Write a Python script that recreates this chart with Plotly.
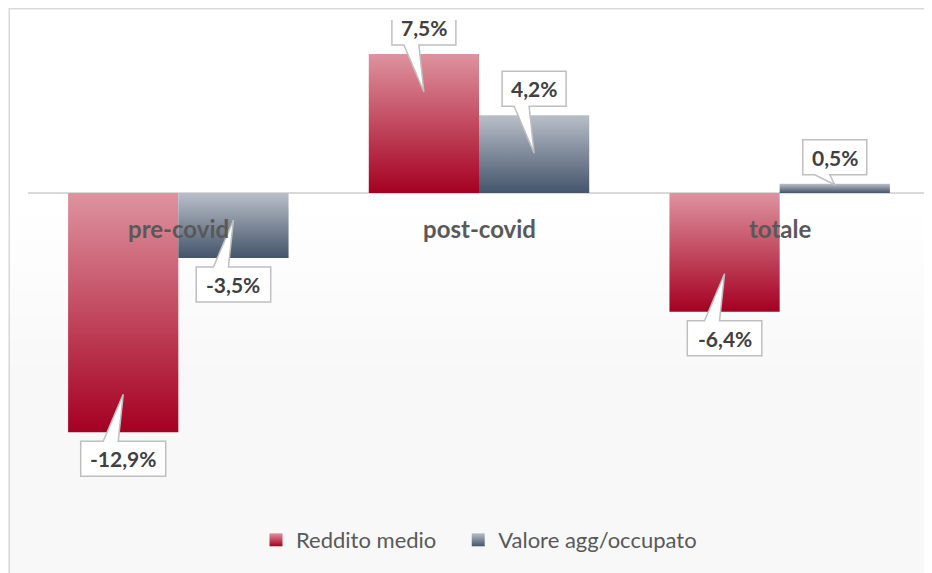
import plotly.graph_objects as go

# data
categorie = ['pre-covid', 'post-covid', 'totale']
reddito_medio = [-12.9, 7.5, -6.4]
valore_agg_occupato = [-3.5, 4.2, 0.5]
serie = [('Reddito medio', reddito_medio), ('Valore agg/occupato', valore_agg_occupato)]

# style
colori = {
    'Reddito medio': ('#a50021', '#de939f'),
    'Valore agg/occupato': ('#44546a', '#b9bfc9'),
}
FONT = 'Lato'
W, H = 932, 573
# page shows the figure offset by the 8px body margin
M_L, M_R, M_T, M_B = 19.5, 10, 12, 81
Y_TOP, Y_BOT = 9.33, -16.55
PX_UNIT = (H - M_T - M_B) / (Y_TOP - Y_BOT)
BAR_W = 0.3666


def fmt(v):
    return '{:.1f}%'.format(v).replace('.', ',')


def px_to_paper_y(py):
    return (H - M_B - py) / (H - M_T - M_B)


def px_to_paper_x(px):
    return (px - M_L) / (W - M_L - M_R)


fig = go.Figure()
shapes = []
annotations = []

# background gradient (white -> light grey)
for k in range(8):
    g = 255 - k
    y_start = 182 + k * 25 if k > 0 else -10
    y_end = 182 + (k + 1) * 25 if k < 7 else 600
    shapes.append(dict(type='rect', xref='paper', yref='paper', layer='below',
                       x0=px_to_paper_x(-10), x1=px_to_paper_x(W + 10),
                       y0=px_to_paper_y(y_end), y1=px_to_paper_y(y_start),
                       fillcolor='rgb({0},{0},{0})'.format(g), line=dict(width=0)))

# outer frame
shapes.append(dict(type='rect', xref='paper', yref='paper', layer='above',
                   x0=px_to_paper_x(0.75), x1=px_to_paper_x(W + 20),
                   y0=px_to_paper_y(H + 20), y1=px_to_paper_y(0.75),
                   fillcolor='rgba(0,0,0,0)', line=dict(color='#d9d9d9', width=1.5)))

for j, (nome, valori) in enumerate(serie):
    scuro, chiaro = colori[nome]
    off = (j - 0.5) * BAR_W
    for i, v in enumerate(valori):
        xc = i + off
        x0, x1 = xc - BAR_W / 2, xc + BAR_W / 2
        fig.add_trace(go.Scatter(
            x=[x0, x1, x1, x0, x0], y=[0, 0, v, v, 0],
            mode='lines', fill='toself', line=dict(width=0),
            fillgradient=dict(type='vertical', colorscale=[[0, scuro], [1, chiaro]]),
            showlegend=False, name=nome, hoverinfo='skip'))

        # callout
        s = 1 if v >= 0 else -1
        w = 10.5 * len(fmt(v)) + 22
        bar_px = abs(v) * PX_UNIT
        tip = 38 if bar_px > 60 else 1
        b0, b1 = 9, 44
        path = 'M{l},{a} L{r},{a} L{r},{b} L-5,{b} L0,{t} L-20,{b} L{l},{b} Z'.format(
            l=-w / 2, r=w / 2, a=s * b1, b=s * b0, t=-s * tip)
        shapes.append(dict(type='path', xref='x', yref='y', layer='above',
                           xsizemode='pixel', ysizemode='pixel', xanchor=xc, yanchor=v,
                           path=path, fillcolor='white', line=dict(color='#bfbfbf', width=1.5)))
        annotations.append(dict(x=xc, y=v, xref='x', yref='y', text='<b>' + fmt(v) + '</b>',
                                showarrow=False, yshift=s * (b0 + b1) / 2,
                                font=dict(family=FONT, size=21, color='#404040')))

    # legend entry (nbsp padding to widen the gap between entries)
    pad = '\u00a0' * 3 if j == 0 else ''
    fig.add_trace(go.Scatter(
        x=[None], y=[None], mode='markers', name=nome + pad,
        marker=dict(symbol='square', size=13, color=chiaro,
                    gradient=dict(type='vertical', color=scuro))))

for i, c in enumerate(categorie):
    annotations.append(dict(x=i, y=0, xref='x', yref='y', text='<b>' + c + '</b>',
                            showarrow=False, yshift=-35,
                            font=dict(family=FONT, size=24, color='#595959')))

fig.update_layout(
    width=W, height=H,
    margin=dict(l=M_L, r=M_R, t=M_T, b=M_B),
    paper_bgcolor='white', plot_bgcolor='rgba(0,0,0,0)',
    font=dict(family=FONT, size=22, color='#595959'),
    xaxis=dict(range=[-0.5, 2.5], visible=False, fixedrange=True),
    yaxis=dict(range=[Y_BOT, Y_TOP], showgrid=False, showticklabels=False, ticks='',
               zeroline=True, zerolinecolor='#d9d9d9', zerolinewidth=2, fixedrange=True),
    showlegend=True,
    legend=dict(orientation='h', x=0.5, xanchor='center', y=px_to_paper_y(532), yanchor='middle',
                bgcolor='rgba(0,0,0,0)', font=dict(family=FONT, size=22, color='#595959'),
                itemclick=False, itemdoubleclick=False),
    shapes=shapes, annotations=annotations,
)

fig.write_html("out.html")
